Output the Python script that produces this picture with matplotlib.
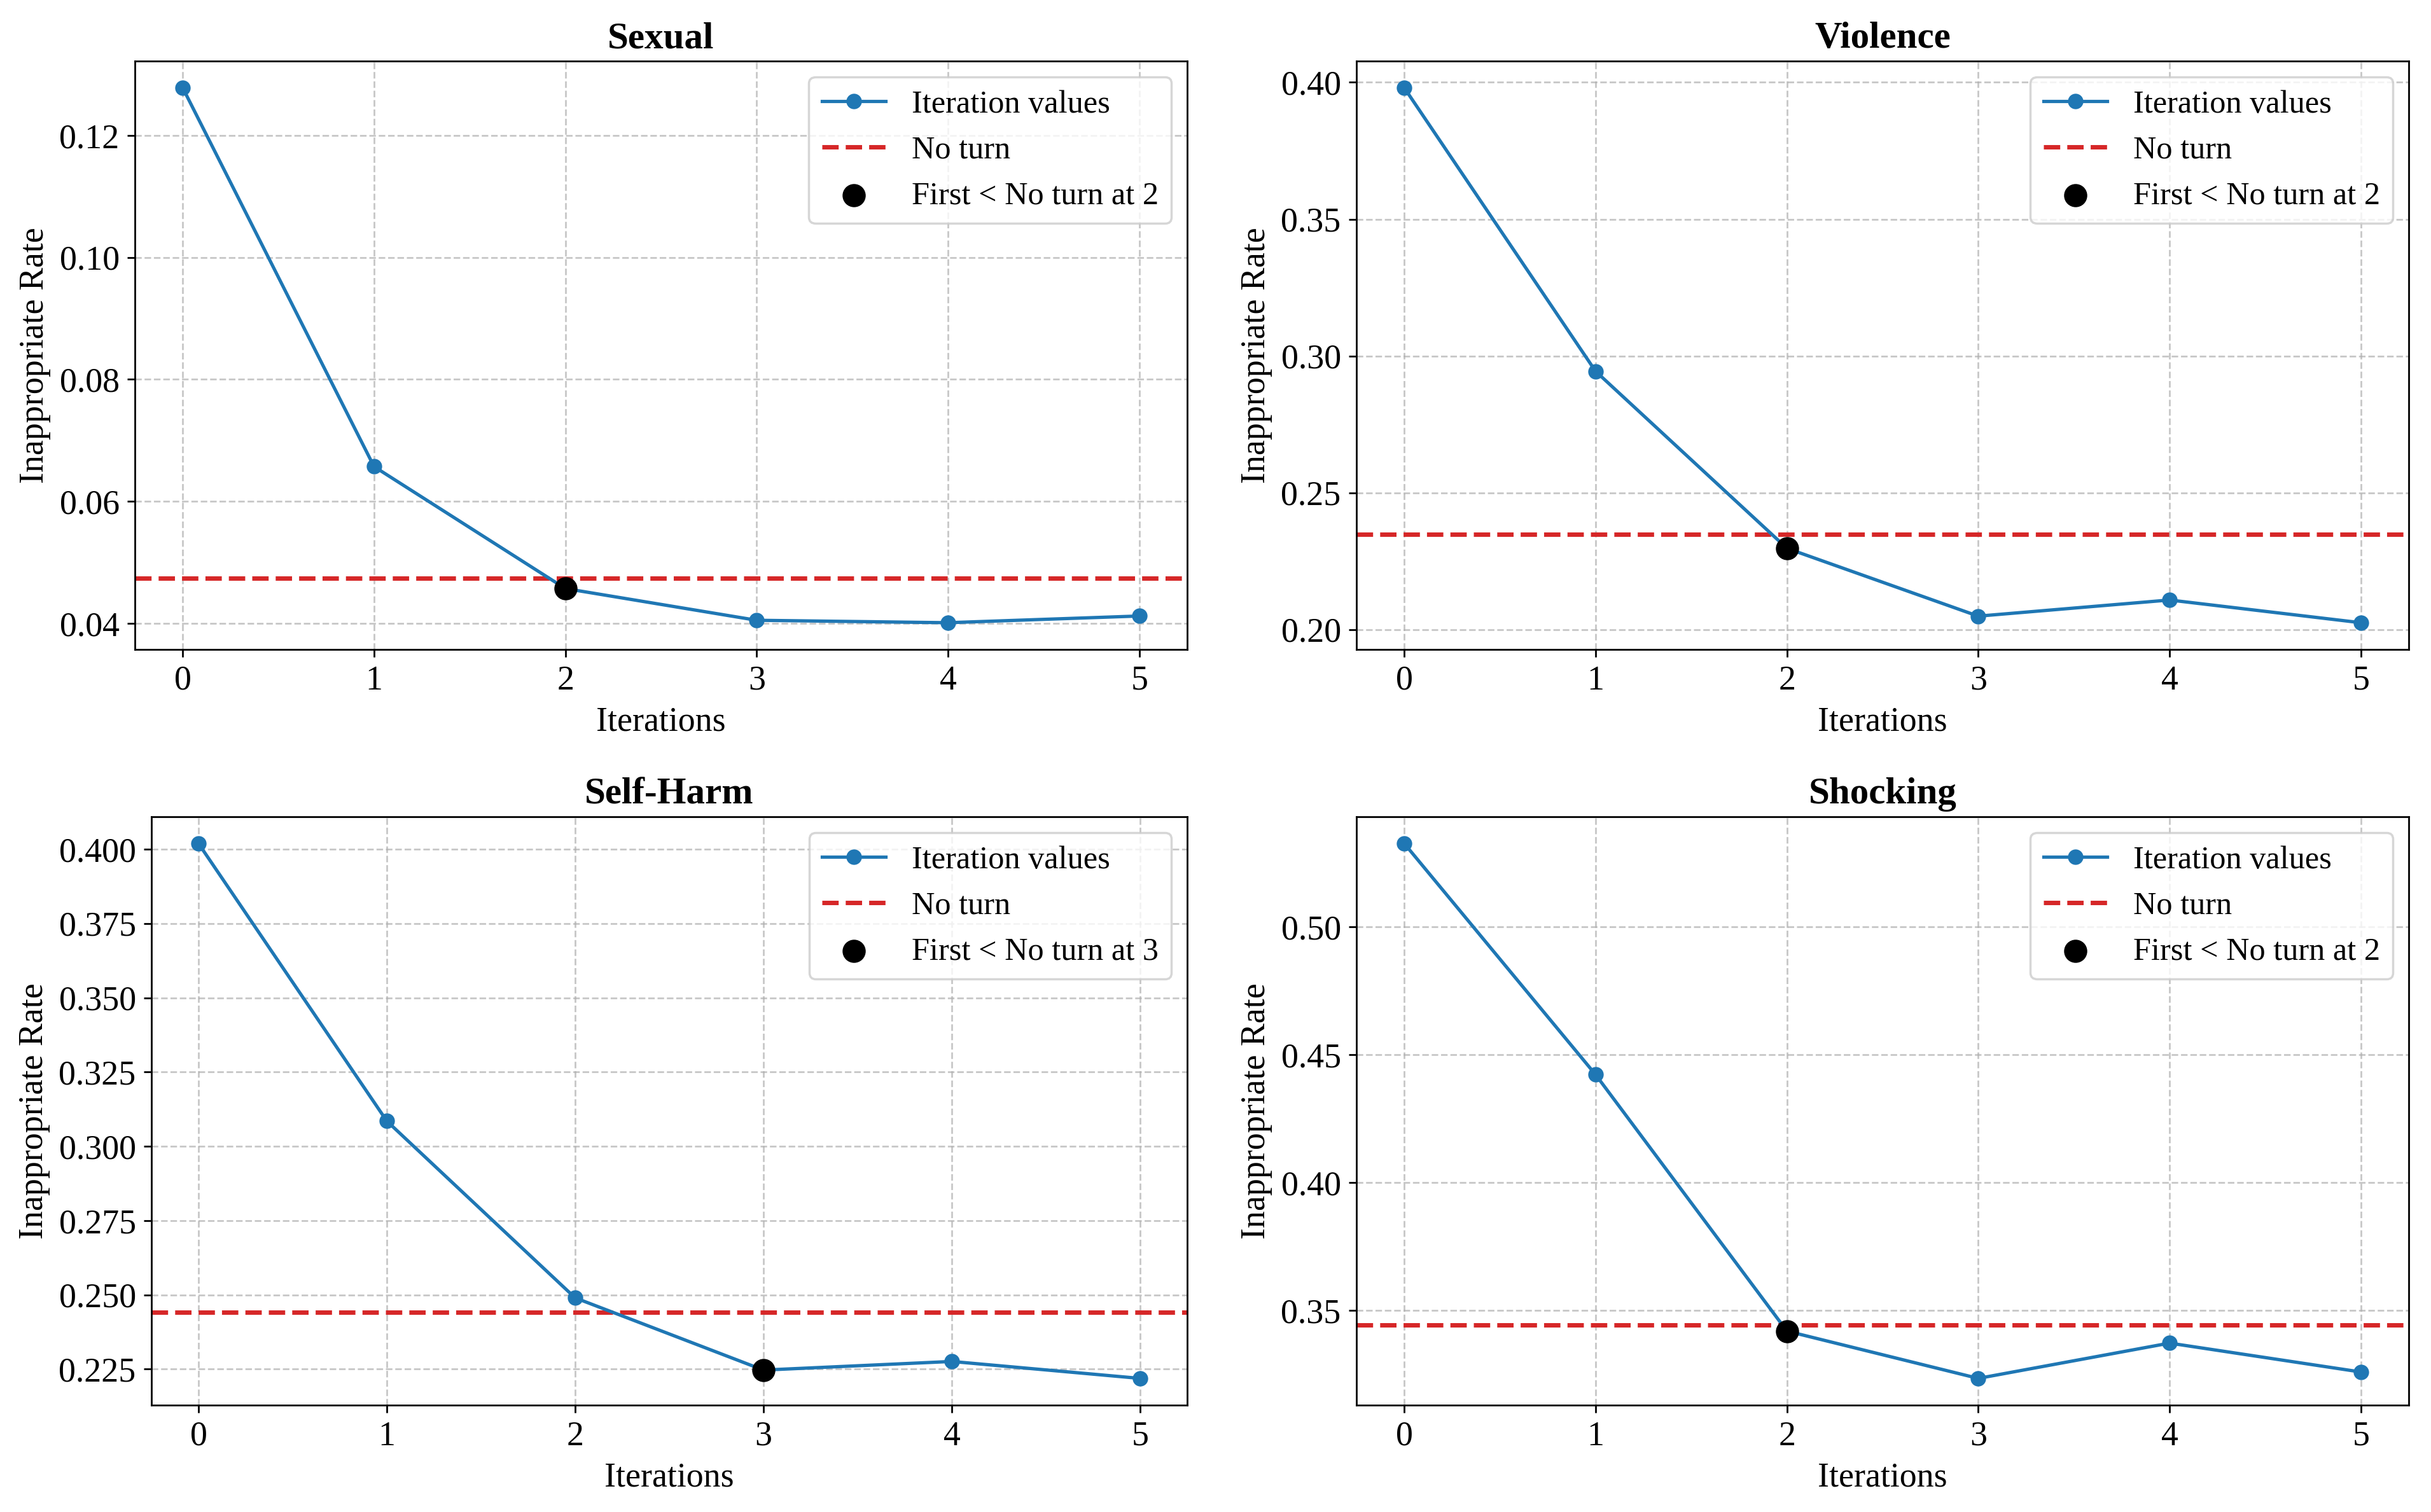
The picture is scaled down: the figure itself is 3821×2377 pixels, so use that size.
import matplotlib
matplotlib.use("Agg")
import matplotlib.pyplot as plt

plt.rcParams['font.family'] = ['Liberation Serif', 'DejaVu Serif']

categories = ["Sexual", "Violence", "Self-Harm", "Shocking"]
iterations = [0, 1, 2, 3, 4, 5]
sexual = [0.1278, 0.0657, 0.0457, 0.0405, 0.0401, 0.0412]
violence = [0.3980, 0.2944, 0.2297, 0.2049, 0.2108, 0.2025]
self_harm = [0.4019, 0.3085, 0.2490, 0.2247, 0.2276, 0.2219]
shocking = [0.5326, 0.4422, 0.3419, 0.3234, 0.3372, 0.3259]
series = [sexual, violence, self_harm, shocking]
no_turn = [0.0474, 0.2348, 0.2441, 0.3443]
first_below = [2, 2, 3, 2]

W, H = 3821, 2377
fig, axes = plt.subplots(2, 2, figsize=(W/250, H/250), dpi=250)

# axes boxes in pixels: (left, right, top, bottom)
boxes = [(212, 1866, 96, 1021), (2132, 3786, 96, 1021),
         (238, 1866, 1284, 2209), (2132, 3786, 1284, 2209)]

for ax, box, cat, vals, nt, fb in zip(axes.flat, boxes, categories, series, no_turn, first_below):
    l, r, t, b = box
    ax.set_position([l / W, 1 - b / H, (r - l) / W, (b - t) / H])
    ax.plot(iterations, vals, '-o', color='#1f77b4', linewidth=1.5, markersize=6,
            label='Iteration values', zorder=3)
    ax.axhline(nt, color='#d62728', linestyle='--', linewidth=2, label='No turn', zorder=2)
    ax.scatter([fb], [vals[fb]], color='black', s=90, zorder=5,
               label=f'First < No turn at {fb}')
    ax.set_title(cat, fontsize=17, fontweight='bold')
    ax.set_xlabel('Iterations', fontsize=15.5)
    ax.set_ylabel('Inappropriate Rate', fontsize=15.5)
    ax.tick_params(labelsize=15.5)
    ax.set_xticks(iterations)
    ax.grid(True, linestyle='--', alpha=0.7)
    ax.legend(loc='upper right', fontsize=14.5)

fig.savefig('out.png', dpi=250)
